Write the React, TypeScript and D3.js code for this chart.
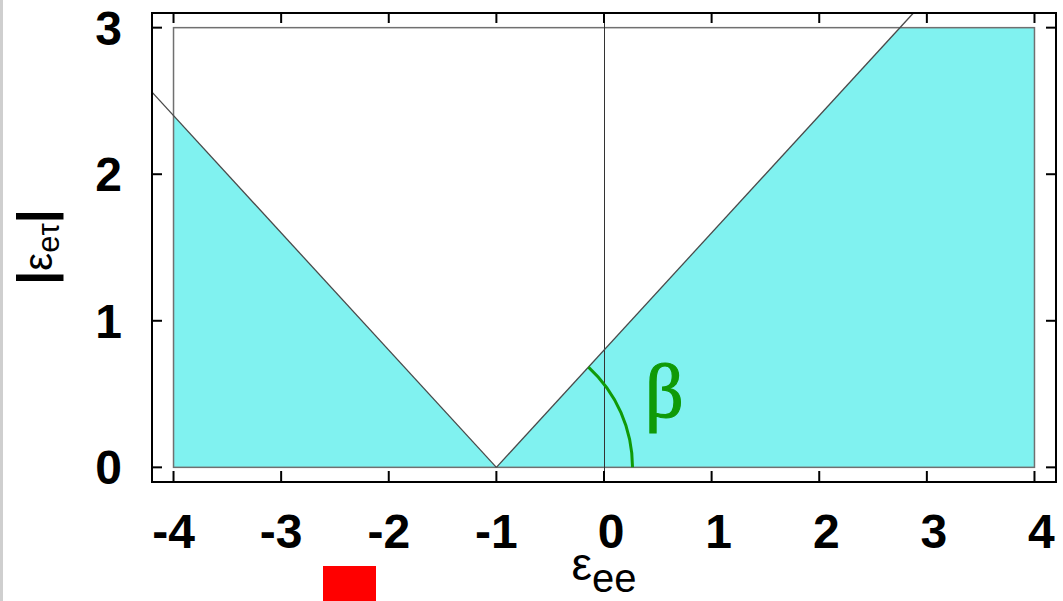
import React from "react";
import * as d3 from "d3";

// Axis ticks
const X_TICKS = [-4, -3, -2, -1, 0, 1, 2, 3, 4];
const Y_TICKS = [0, 1, 2, 3];

// Plot domains
const X_DOMAIN: [number, number] = [-4.2, 4.2];
const Y_DOMAIN: [number, number] = [-0.1, 3.1];

// Scanned parameter box
const BOX_X = [-4, 4];
const BOX_Y = [0, 3];

// Allowed regions (shaded)
const LEFT_ALLOWED: [number, number][] = [[-4, 0], [-1, 0], [-4, 2.4]];
const RIGHT_ALLOWED: [number, number][] = [[-1, 0], [4, 0], [4, 3], [2.75, 3]];

// Boundary lines |eps_et| = 0.8 |eps_ee + 1|
const LEFT_BOUNDARY: [number, number][] = [[-4.2, 2.56], [-1, 0]];
const RIGHT_BOUNDARY: [number, number][] = [[-1, 0], [2.875, 3.1]];

// Angle marker
const ARC_CENTER: [number, number] = [-1, 0];
const ARC_RADIUS = 1.265; // in x units
const ARC_END: [number, number] = [2.75, 3];

const W = 1063;
const H = 601;
const FRAME = { left: 152, right: 1056, top: 13, bottom: 482 };

const CYAN = "#80f2f0";
const GREEN = "#109a08";

export default function App() {
  const x = d3.scaleLinear().domain(X_DOMAIN).range([FRAME.left, FRAME.right]);
  const y = d3.scaleLinear().domain(Y_DOMAIN).range([FRAME.bottom, FRAME.top]);
  const line = d3
    .line<[number, number]>()
    .x((d) => x(d[0]))
    .y((d) => y(d[1]));

  const cx = x(ARC_CENTER[0]);
  const cy = y(ARC_CENTER[1]);
  const r = x(ARC_CENTER[0] + ARC_RADIUS) - cx;
  const theta = Math.atan2(cy - y(ARC_END[1]), x(ARC_END[0]) - cx);
  const arcPath = d3.path();
  arcPath.moveTo(cx + r, cy);
  arcPath.arc(cx, cy, r, 0, -theta, true);

  const tickLen = 10;
  const font = "'Liberation Sans', Arial, sans-serif";
  const zeroX = Math.floor(x(0)) + 0.5;

  return (
    <svg
      width={W}
      height={H}
      style={{ position: "absolute", left: 0, top: 0, background: "#fff" }}
    >
      <rect x={0} y={0} width={W} height={H} fill="#fff" />
      <rect x={0} y={0} width={3} height={H} fill="#cfcfcf" />

      {/* shaded allowed regions */}
      <path d={line(LEFT_ALLOWED) + "Z"} fill={CYAN} />
      <path d={line(RIGHT_ALLOWED) + "Z"} fill={CYAN} />

      {/* scanned box */}
      <rect
        x={x(BOX_X[0])}
        y={y(BOX_Y[1])}
        width={x(BOX_X[1]) - x(BOX_X[0])}
        height={y(BOX_Y[0]) - y(BOX_Y[1])}
        fill="none"
        stroke="#707070"
        strokeWidth={1.5}
      />

      {/* eps_ee = 0 */}
      <line
        x1={zeroX}
        x2={zeroX}
        y1={FRAME.top}
        y2={FRAME.bottom}
        stroke="#333"
        strokeWidth={1}
      />

      {/* boundaries */}
      <path d={line(LEFT_BOUNDARY) ?? ""} fill="none" stroke="#4a4a4a" strokeWidth={1.3} />
      <path d={line(RIGHT_BOUNDARY) ?? ""} fill="none" stroke="#4a4a4a" strokeWidth={1.3} />

      {/* angle beta */}
      <path d={arcPath.toString()} fill="none" stroke={GREEN} strokeWidth={3} />
      <text
        x={645}
        y={417}
        fill={GREEN}
        stroke={GREEN}
        strokeWidth={1.2}
        fontFamily="'Liberation Serif', 'Times New Roman', serif"
        fontSize={76}
      >
        β
      </text>

      {/* frame */}
      <rect
        x={FRAME.left}
        y={FRAME.top}
        width={FRAME.right - FRAME.left}
        height={FRAME.bottom - FRAME.top}
        fill="none"
        stroke="#000"
        strokeWidth={2}
      />

      {/* x ticks */}
      {X_TICKS.map((t) => (
        <g key={"xt" + t}>
          <line x1={x(t)} x2={x(t)} y1={FRAME.bottom} y2={FRAME.bottom - tickLen - 1} stroke="#000" strokeWidth={2} />
          <line x1={x(t)} x2={x(t)} y1={FRAME.top} y2={FRAME.top + tickLen} stroke="#000" strokeWidth={2} />
          <text
            x={x(t) + (t >= 0 ? 7 : 0)}
            y={548}
            textAnchor="middle"
            fontFamily={font}
            fontWeight="bold"
            fontSize={48}
            fill="#000"
          >
            {t}
          </text>
        </g>
      ))}

      {/* y ticks */}
      {Y_TICKS.map((t) => (
        <g key={"yt" + t}>
          <line x1={FRAME.left} x2={FRAME.left + tickLen} y1={y(t)} y2={y(t)} stroke="#000" strokeWidth={2} />
          <line x1={FRAME.right} x2={FRAME.right - tickLen} y1={y(t)} y2={y(t)} stroke="#000" strokeWidth={2} />
          <text
            x={122}
            y={y(t) + 17}
            textAnchor="end"
            fontFamily={font}
            fontWeight="bold"
            fontSize={48}
            fill="#000"
          >
            {t}
          </text>
        </g>
      ))}

      {/* x label */}
      <text x={604} y={580} textAnchor="middle" fontFamily={font} fill="#000">
        <tspan fontSize={46}>ε</tspan>
        <tspan fontSize={40} dy={12}>ee</tspan>
      </text>

      {/* y label */}
      <text
        transform={`translate(52,247) rotate(-90)`}
        textAnchor="middle"
        fontFamily={font}
        fill="#000"
      >
        <tspan fontSize={50} fontWeight="bold">|</tspan>
        <tspan fontSize={40}>ε</tspan>
        <tspan fontSize={31} dy={7}>eτ</tspan>
        <tspan fontSize={50} fontWeight="bold" dy={-7}>|</tspan>
      </text>

      {/* marker */}
      <rect x={323} y={566} width={53} height={35} fill="#ff0000" />
    </svg>
  );
}
